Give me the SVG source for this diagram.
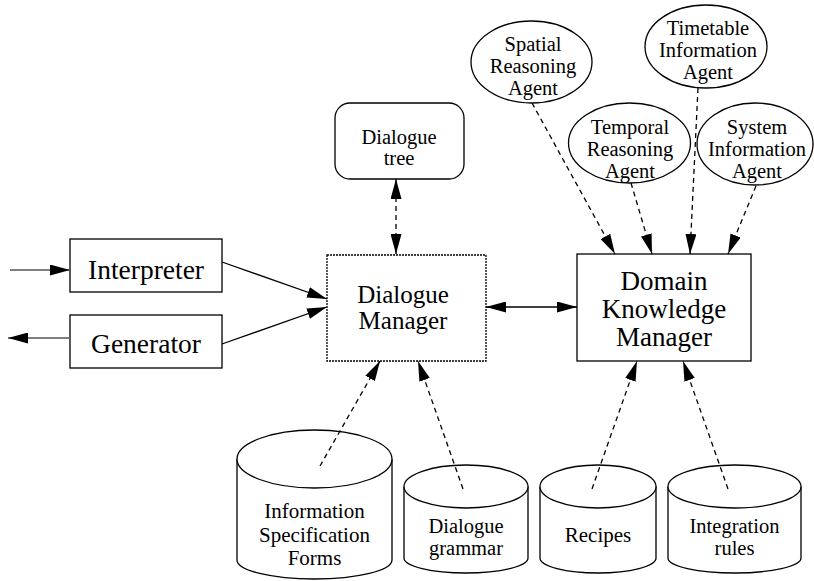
<svg xmlns="http://www.w3.org/2000/svg" width="814" height="581" viewBox="0 0 814 581">
<style>
.n{fill:#fff;stroke:#000;stroke-width:1.3}
.dm{fill:#fff;stroke:#000;stroke-width:1.3;stroke-dasharray:2 1}
.t{font-family:"Liberation Serif","Times New Roman",serif;fill:#000;text-anchor:middle}
.big{font-size:27.5px}
.mid{font-size:25px}
.huge{font-size:27px}
.sm{font-size:21px}
.xs{font-size:20.5px}
.c{fill:none;stroke:#000;stroke-width:1.3}
.g{fill:none;stroke:#555;stroke-width:1.6}
.d{stroke-dasharray:5 4}
</style>
<defs>
<marker id="ah" markerUnits="userSpaceOnUse" markerWidth="20" markerHeight="11" refX="20" refY="5.5" orient="auto-start-reverse">
<path d="M0,0 L20,5.5 L0,11 z" fill="#000"/>
</marker>
</defs>
<rect width="814" height="581" fill="#fff"/>

<g id="interpreter">
<rect class="n" x="70" y="239" width="152" height="53"/>
<text class="t big" x="146" y="279">Interpreter</text>
</g>
<g id="generator">
<rect class="n" x="70" y="315" width="152" height="53"/>
<text class="t big" x="146" y="353">Generator</text>
</g>
<g id="dialogue-manager">
<rect class="dm" x="327" y="255" width="159" height="106"/>
<text class="t mid" x="403" y="303">Dialogue</text>
<text class="t mid" x="403" y="329">Manager</text>
</g>
<g id="domain-knowledge-manager">
<rect class="n" x="577" y="254" width="174" height="107"/>
<text class="t huge" x="664" y="290">Domain</text>
<text class="t huge" x="664" y="318">Knowledge</text>
<text class="t huge" x="664" y="346">Manager</text>
</g>
<g id="dialogue-tree">
<rect class="n" x="335" y="103" width="129" height="76" rx="15" ry="15"/>
<text class="t xs" x="399" y="144">Dialogue</text>
<text class="t xs" x="399" y="165">tree</text>
</g>
<g id="spatial-agent">
<ellipse class="n" cx="531.5" cy="62" rx="60.5" ry="41"/>
<text class="t xs" x="533" y="51">Spatial</text>
<text class="t xs" x="533" y="73">Reasoning</text>
<text class="t xs" x="533" y="95">Agent</text>
</g>
<g id="timetable-agent">
<ellipse class="n" cx="706" cy="46.5" rx="61" ry="41.5"/>
<text class="t xs" x="708" y="35">Timetable</text>
<text class="t xs" x="708" y="57">Information</text>
<text class="t xs" x="708" y="79">Agent</text>
</g>
<g id="temporal-agent">
<ellipse class="n" cx="629.5" cy="143" rx="61" ry="40"/>
<text class="t xs" x="630" y="134">Temporal</text>
<text class="t xs" x="630" y="156">Reasoning</text>
<text class="t xs" x="630" y="178">Agent</text>
</g>
<g id="system-agent">
<ellipse class="n" cx="755" cy="144" rx="58" ry="41"/>
<text class="t xs" x="757" y="134">System</text>
<text class="t xs" x="757" y="156">Information</text>
<text class="t xs" x="757" y="178">Agent</text>
</g>
<g id="info-spec-forms">
<path class="n" d="M237,459 L237,560 A77.5,19 0 0 0 392,560 L392,459"/>
<ellipse class="n" cx="314.5" cy="459" rx="77.5" ry="29"/>
<text class="t sm" x="314.5" y="518">Information</text>
<text class="t sm" x="314.5" y="542">Specification</text>
<text class="t sm" x="314.5" y="565">Forms</text>
</g>
<g id="dialogue-grammar">
<path class="n" d="M404,486.5 L404,558 A62,15 0 0 0 528,558 L528,486.5"/>
<ellipse class="n" cx="466" cy="486.5" rx="62" ry="21.5"/>
<text class="t xs" x="466" y="533">Dialogue</text>
<text class="t xs" x="466" y="555">grammar</text>
</g>
<g id="recipes">
<path class="n" d="M540,486.5 L540,558 A58,15 0 0 0 656,558 L656,486.5"/>
<ellipse class="n" cx="598" cy="486.5" rx="58" ry="21.5"/>
<text class="t sm" x="598" y="542">Recipes</text>
</g>
<g id="integration-rules">
<path class="n" d="M668,486.5 L668,558 A66.5,15 0 0 0 801,558 L801,486.5"/>
<ellipse class="n" cx="734.5" cy="486.5" rx="66.5" ry="21.5"/>
<text class="t xs" x="734.5" y="533">Integration</text>
<text class="t xs" x="734.5" y="555">rules</text>
</g>

<g id="connectors">
<line class="g" x1="10" y1="270" x2="70" y2="270" marker-end="url(#ah)"/>
<line class="g" x1="70" y1="338" x2="8" y2="338" marker-end="url(#ah)"/>
<line class="c" x1="222" y1="262" x2="327" y2="299" marker-end="url(#ah)"/>
<line class="c" x1="222" y1="344" x2="327" y2="307" marker-end="url(#ah)"/>
<line class="c" x1="486" y1="307" x2="577" y2="307" marker-start="url(#ah)" marker-end="url(#ah)"/>
<line class="c d" x1="396" y1="179" x2="396" y2="254" marker-start="url(#ah)" marker-end="url(#ah)"/>
<line class="c d" x1="532" y1="103" x2="615" y2="254" marker-end="url(#ah)"/>
<line class="c d" x1="631" y1="183" x2="652" y2="254" marker-end="url(#ah)"/>
<line class="c d" x1="698" y1="88" x2="690" y2="254" marker-end="url(#ah)"/>
<line class="c d" x1="756" y1="186" x2="728" y2="254" marker-end="url(#ah)"/>
<line class="c d" x1="320" y1="466" x2="380" y2="361" marker-end="url(#ah)"/>
<line class="c d" x1="463" y1="489" x2="418" y2="361" marker-end="url(#ah)"/>
<line class="c d" x1="592" y1="489" x2="637" y2="361" marker-end="url(#ah)"/>
<line class="c d" x1="728" y1="489" x2="683" y2="361" marker-end="url(#ah)"/>
</g>
</svg>
